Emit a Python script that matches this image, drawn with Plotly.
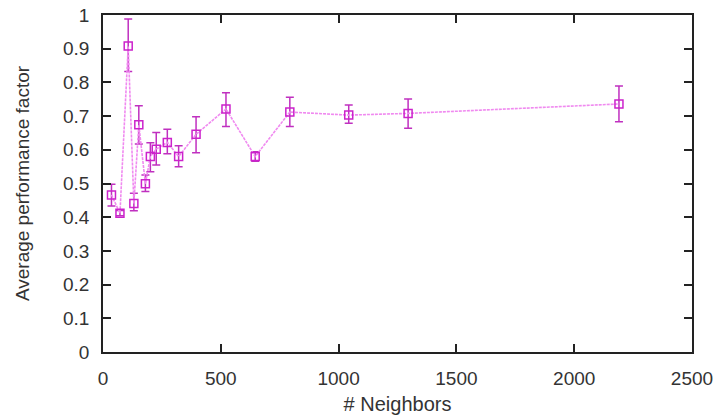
import plotly.graph_objects as go

neighbors = [36, 72, 107, 131, 152, 180, 201, 226, 273, 321, 395, 522, 646, 793, 1043, 1295, 2190]
perf = [0.466, 0.412, 0.908, 0.441, 0.674, 0.499, 0.580, 0.602, 0.622, 0.580, 0.646, 0.721, 0.580, 0.712, 0.703, 0.708, 0.736]
err_plus = [0.032, 0.008, 0.080, 0.030, 0.057, 0.026, 0.041, 0.049, 0.039, 0.032, 0.052, 0.048, 0.014, 0.044, 0.030, 0.043, 0.053]
err_minus = [0.033, 0.008, 0.076, 0.022, 0.057, 0.023, 0.045, 0.047, 0.034, 0.030, 0.055, 0.052, 0.014, 0.043, 0.024, 0.044, 0.053]

x_ticks = [0, 500, 1000, 1500, 2000, 2500]
y_ticks = [0, 0.1, 0.2, 0.3, 0.4, 0.5, 0.6, 0.7, 0.8, 0.9, 1]
y_tick_text = ["0", "0.1", "0.2", "0.3", "0.4", "0.5", "0.6", "0.7", "0.8", "0.9", "1"]

FONT = "Liberation Sans, Arial"

fig = go.Figure()
fig.add_trace(go.Scatter(
    x=neighbors, y=perf,
    mode="lines+markers",
    line=dict(color="#f08af0", width=1.6, dash="3px,1px"),
    marker=dict(symbol="square-open", size=8, color="#cc22cc", line=dict(width=1.5, color="#cc22cc")),
    error_y=dict(type="data", symmetric=False, array=err_plus, arrayminus=err_minus,
                 color="#c030c0", thickness=1.5, width=4),
    showlegend=False,
))

axis_common = dict(
    showline=True, linecolor="#222", linewidth=1.5, mirror="allticks",
    ticks="inside", ticklen=8, tickcolor="#222", tickwidth=1.5,
    showgrid=False, zeroline=False, automargin=False,
    tickfont=dict(family=FONT, size=19, color="#333"),
)

fig.update_xaxes(range=[0, 2500], tickvals=x_ticks, ticklabelstandoff=8,
                 title=dict(text="# Neighbors", standoff=10,
                            font=dict(family=FONT, size=20, color="#333")), **axis_common)
fig.update_yaxes(range=[0, 1], tickvals=y_ticks, ticktext=y_tick_text, ticklabelstandoff=8,
                 title=dict(text="Average performance factor", standoff=28,
                            font=dict(family=FONT, size=19, color="#333")), **axis_common)

fig.update_layout(
    width=718, height=415,
    margin=dict(l=103, r=26, t=15, b=63),
    plot_bgcolor="white", paper_bgcolor="white",
)

fig.write_html("out.html")
